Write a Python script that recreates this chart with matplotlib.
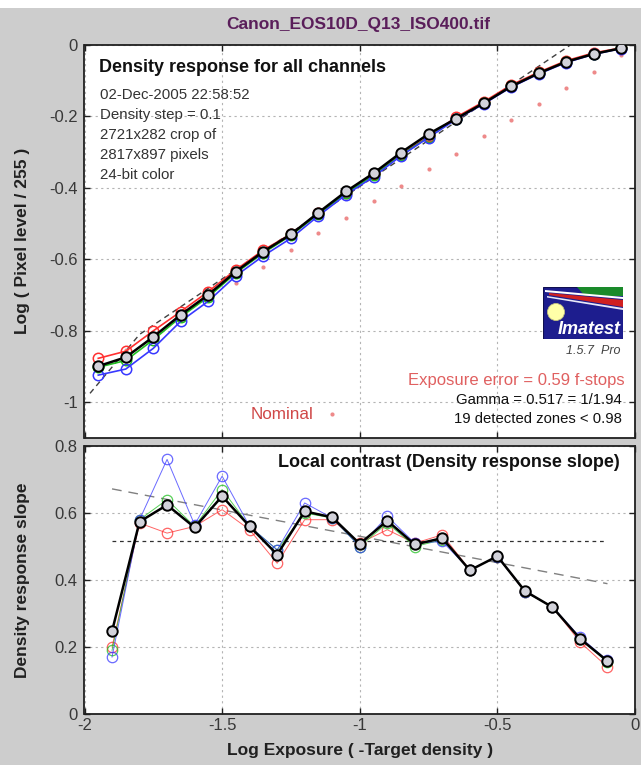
import matplotlib
matplotlib.use('Agg')
import matplotlib.pyplot as plt
from matplotlib import font_manager
from matplotlib.patches import Rectangle, Polygon, Circle

W, H = 641, 765
names = {f.name for f in font_manager.fontManager.ttflist}
BASE = 'Liberation Sans' if 'Liberation Sans' in names else 'DejaVu Sans'
plt.rcParams['font.family'] = [BASE, 'DejaVu Sans']

# ---------------- data ----------------
zone_x = [-1.95, -1.85, -1.75, -1.65, -1.55, -1.45, -1.35, -1.25, -1.15, -1.05,
          -0.95, -0.85, -0.75, -0.65, -0.55, -0.45, -0.35, -0.25, -0.15, -0.05]
resp_mean = [-0.899, -0.874, -0.817, -0.755, -0.699, -0.634, -0.578, -0.530, -0.469, -0.410,
             -0.359, -0.301, -0.249, -0.206, -0.163, -0.116, -0.079, -0.047, -0.025, -0.009]
resp_red = [-0.877, -0.857, -0.800, -0.746, -0.690, -0.629, -0.574, -0.529, -0.471, -0.413,
            -0.362, -0.307, -0.256, -0.202, -0.159, -0.112, -0.076, -0.044, -0.022, -0.008]
resp_green = [-0.902, -0.883, -0.825, -0.761, -0.705, -0.638, -0.582, -0.533, -0.473, -0.415,
              -0.365, -0.308, -0.258, -0.206, -0.163, -0.116, -0.079, -0.047, -0.025, -0.009]
resp_blue = [-0.924, -0.907, -0.849, -0.773, -0.717, -0.646, -0.590, -0.541, -0.478, -0.419,
             -0.369, -0.310, -0.259, -0.208, -0.165, -0.118, -0.081, -0.049, -0.026, -0.010]
nominal = [-0.900, -0.855, -0.810, -0.765, -0.715, -0.667, -0.622, -0.575, -0.527, -0.485,
           -0.438, -0.394, -0.348, -0.305, -0.256, -0.210, -0.165, -0.119, -0.076, -0.028]
fit_x = [-1.98, -1.80, -0.20]
fit_y = [-0.975, -0.810, 0.018]

slope_x = [-1.9, -1.8, -1.7, -1.6, -1.5, -1.4, -1.3, -1.2, -1.1, -1.0,
           -0.9, -0.8, -0.7, -0.6, -0.5, -0.4, -0.3, -0.2, -0.1]
slope_mean = [0.247, 0.574, 0.624, 0.557, 0.650, 0.560, 0.476, 0.605, 0.587, 0.508,
              0.577, 0.506, 0.525, 0.429, 0.471, 0.367, 0.319, 0.225, 0.158]
slope_red = [0.20, 0.57, 0.54, 0.56, 0.61, 0.55, 0.45, 0.58, 0.58, 0.51,
             0.55, 0.51, 0.535, 0.43, 0.47, 0.365, 0.32, 0.215, 0.14]
slope_green = [0.19, 0.58, 0.64, 0.56, 0.67, 0.56, 0.49, 0.60, 0.585, 0.50,
               0.57, 0.50, 0.52, 0.43, 0.47, 0.365, 0.32, 0.225, 0.155]
slope_blue = [0.17, 0.58, 0.76, 0.565, 0.71, 0.56, 0.49, 0.63, 0.585, 0.50,
              0.59, 0.51, 0.515, 0.43, 0.47, 0.365, 0.32, 0.23, 0.16]
gamma_x = [-1.9, -0.1]
gamma_y = [0.517, 0.517]
trend_x = [-1.9, -0.1]
trend_y = [0.672, 0.389]

x_ticks = [-2, -1.5, -1, -0.5, 0]
x_ticklabels = ['-2', '-1.5', '-1', '-0.5', '0']
top_yticks = [0, -0.2, -0.4, -0.6, -0.8, -1]
top_yticklabels = ['0', '-0.2', '-0.4', '-0.6', '-0.8', '-1']
bot_yticks = [0, 0.2, 0.4, 0.6, 0.8]
bot_yticklabels = ['0', '0.2', '0.4', '0.6', '0.8']

info_lines = ['02-Dec-2005 22:58:52', 'Density step = 0.1', '2721x282 crop of',
              '2817x897 pixels', '24-bit color']

# ---------------- figure ----------------
BG = '#cdcdcd'
fig = plt.figure(figsize=(W / 100, H / 100), dpi=100, facecolor=BG)
fig.patches.append(Rectangle((0, 1 - 8 / H), 1, 8 / H, transform=fig.transFigure,
                             facecolor='white', edgecolor='none', zorder=0))


def P(x, y):
    return x / W, 1 - y / H


RED, GREEN, BLUE = '#ff3030', '#20c020', '#3838ff'
FACE = '#d2d2da'


def style_axes(ax):
    ax.set_xlim(-2, 0)
    ax.set_xticks(x_ticks)
    for s in ax.spines.values():
        s.set_color('#202020')
        s.set_linewidth(1.3)
    ax.tick_params(direction='in', length=4, width=1, top=True, right=True, pad=5,
                   colors='#202020', labelsize=12, labelcolor='#383838')
    ax.grid(True, linestyle=(0, (2, 3)), color='#b4b4b4', linewidth=0.8)
    ax.set_axisbelow(True)


ax1 = fig.add_axes([84.5 / W, 1 - 438 / H, 550.5 / W, 393 / H])
ax2 = fig.add_axes([84.5 / W, 1 - 714 / H, 550.5 / W, 268 / H])

# top panel
style_axes(ax1)
ax1.set_ylim(-1.1, 0)
ax1.set_yticks(top_yticks)
ax1.set_yticklabels(top_yticklabels)
ax1.set_xticklabels([])
ax1.plot(zone_x, nominal, linestyle='none', marker='o', markersize=3,
         color='#ee8a8a', markeredgewidth=0, zorder=2)
ax1.plot(fit_x, fit_y, linestyle=(0, (4, 3)), color='#404040', linewidth=1.0, zorder=2)
for vals, c in ((resp_red, RED), (resp_green, GREEN), (resp_blue, BLUE)):
    ax1.plot(zone_x, vals, color=c, linewidth=1.2, marker='o', markersize=7.5,
             markerfacecolor='none', markeredgecolor=c, markeredgewidth=1.1, zorder=3)
ax1.plot(zone_x, resp_mean, color='black', linewidth=1.8, marker='o', markersize=7.5,
         markerfacecolor=FACE, markeredgecolor='black', markeredgewidth=1.4, zorder=4)

# bottom panel
style_axes(ax2)
ax2.set_ylim(0, 0.8)
ax2.set_yticks(bot_yticks)
ax2.set_yticklabels(bot_yticklabels)
ax2.set_xticklabels(x_ticklabels)
ax2.tick_params(axis='x', pad=3)
ax2.plot(trend_x, trend_y, linestyle=(0, (7, 5)), color='#808080', linewidth=1.0, zorder=2)
ax2.plot(gamma_x, gamma_y, linestyle=(0, (3, 3)), color='#303030', linewidth=0.9, zorder=2)
for vals, c in ((slope_red, RED), (slope_green, GREEN), (slope_blue, BLUE)):
    ax2.plot(slope_x, vals, color=c, linewidth=0.7, alpha=0.75, marker='o', markersize=7.5,
             markerfacecolor='none', markeredgecolor=c, markeredgewidth=0.9, zorder=3)
ax2.plot(slope_x, slope_mean, color='black', linewidth=1.8, marker='o', markersize=7.5,
         markerfacecolor=FACE, markeredgecolor='black', markeredgewidth=1.4, zorder=4)

# axis labels
fig.text(*P(23, 241), 'Log ( Pixel level / 255 )', rotation=90, ha='center', va='center',
         fontsize=12.5, fontweight='bold', color='#202020')
fig.text(*P(23, 580), 'Density response slope', rotation=90, ha='center', va='center',
         fontsize=12.5, fontweight='bold', color='#202020')
fig.text(*P(360, 751), 'Log Exposure ( -Target density )', ha='center', va='center',
         fontsize=12.5, fontweight='bold', color='#202020')

# ---------------- texts ----------------
fig.text(*P(358, 24), 'Canon_EOS10D_Q13_ISO400.tif', ha='center', va='center',
         fontsize=12.5, fontweight='bold', color='#5a1e5a')
fig.text(*P(99, 68), 'Density response for all channels', ha='left', va='center',
         fontsize=13, fontweight='bold', color='#111111')
for i, line in enumerate(info_lines):
    fig.text(*P(100, 95 + 20 * i), line, ha='left', va='center', fontsize=10.8, color='#333333')

fig.text(*P(621, 351), '1.5.7  Pro', ha='right', va='center', fontsize=9,
         style='italic', color='#444444')
fig.text(*P(625, 380), 'Exposure error = 0.59 f-stops', ha='right', va='center',
         fontsize=12, color='#e06060')
fig.text(*P(622, 400), 'Gamma = 0.517 = 1/1.94', ha='right', va='center',
         fontsize=10.7, color='#111111')
fig.text(*P(622, 419), '19 detected zones < 0.98', ha='right', va='center',
         fontsize=10.7, color='#111111')
fig.text(*P(251, 415), 'Nominal', ha='left', va='center', fontsize=12.3, color='#d04848')
fx, fy = P(332, 414)
fig.add_artist(plt.Line2D([fx], [fy], marker='o', markersize=3, color='#ee8a8a',
                          markeredgewidth=0, transform=fig.transFigure))
fig.text(*P(620, 463), 'Local contrast (Density response slope)', ha='right', va='center',
         fontsize=13, fontweight='bold', color='#111111')

# ---------------- logo ----------------
lg = fig.add_axes([543 / W, 1 - 339 / H, 80 / W, 52 / H])
lg.set_xlim(0, 80)
lg.set_ylim(52, 0)
lg.axis('off')
lg.add_patch(Rectangle((0, 0), 80, 52, facecolor='#1d1d8e', edgecolor='#101050', lw=0.8))
lg.add_patch(Polygon([(34, 0), (80, 0), (80, 9), (42, 9)], closed=True,
                     facecolor='#1a8a2a', edgecolor='none'))
lg.add_patch(Polygon([(2, 3), (80, 10), (80, 12), (2, 5)], closed=True,
                     facecolor='white', edgecolor='none'))
lg.add_patch(Polygon([(6, 6), (80, 13), (80, 20), (6, 8)], closed=True,
                     facecolor='#d02020', edgecolor='none'))
lg.add_patch(Polygon([(4, 9), (80, 21), (80, 23), (4, 10.5)], closed=True,
                     facecolor='#e8e8f8', edgecolor='none'))
lg.add_patch(Circle((13, 25), 8.5, facecolor='#ffffa8', edgecolor='#c0c080', lw=0.6))
lg.text(78, 42, 'Imatest', ha='right', va='center', fontsize=13, fontweight='bold',
        style='italic', color='white')

fig.savefig('out.png', dpi=100, facecolor=BG)
